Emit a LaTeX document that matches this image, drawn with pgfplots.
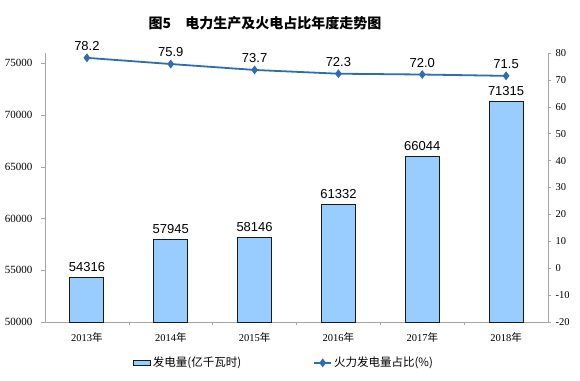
\documentclass[border=0pt]{standalone}
\usepackage{fontspec}
\setmainfont{Liberation Serif}
\setsansfont{Liberation Sans}
\newfontfamily\cjk{Noto Sans CJK SC}
\usepackage{pgfplots}
\pgfplotsset{compat=1.18}
\definecolor{barfill}{HTML}{99CCFF}
\definecolor{linec}{HTML}{2E6DB4}
\definecolor{axgray}{HTML}{A6A6A6}
\definecolor{bardraw}{HTML}{1A1A1A}
\begin{document}
\begin{tikzpicture}[x=1pt,y=1pt]
\useasboundingbox (0,0) rectangle (580,380);
\node[font=\cjk\bfseries\fontsize{14}{16}\selectfont] at (265,357) {图5\hspace{1em}电力生产及火电占比年度走势图};
\begin{axis}[
  at={(45pt,58pt)}, anchor=south west,
  width=503pt, height=269pt, scale only axis,
  xmin=-0.5, xmax=5.5, ymin=50000, ymax=76000,
  axis y line*=left, axis x line*=bottom,
  axis line style={axgray, line width=0.8pt},
  every tick/.style={axgray, line width=0.6pt},
  tick align=outside,
  major tick length=4pt, minor tick length=3pt,
  ytick={50000,55000,...,75000},
  xtick={0,...,5},
  xticklabels={2013{\cjk 年},2014{\cjk 年},2015{\cjk 年},2016{\cjk 年},2017{\cjk 年},2018{\cjk 年}},
  x tick style={draw=none},
  minor xtick={0.5,1.5,...,4.5},
  minor x tick style={draw=axgray},
  scaled y ticks=false,
  /pgf/number format/1000 sep={},
  /pgf/number format/assume math mode=true,
  yticklabel style={font=\fontsize{11}{13}\selectfont, xshift=-5pt},
  xticklabel style={font=\fontsize{10.5}{12}\selectfont, yshift=-3pt},
  ybar, bar width=34pt,
  nodes near coords,
  every node near coord/.append style={font=\sffamily\fontsize{13}{15}\selectfont, yshift=2pt},
  clip=false,
]
\addplot[fill=barfill, draw=bardraw, line width=1pt] coordinates {
  (0,54316) (1,57945) (2,58146) (3,61332) (4,66044) (5,71315)};
\end{axis}
\begin{axis}[
  at={(45pt,58pt)}, anchor=south west,
  width=503pt, height=269pt, scale only axis,
  xmin=-0.5, xmax=5.5, ymin=-20, ymax=80,
  axis y line*=right, axis x line=none,
  axis line style={axgray, line width=0.8pt},
  every tick/.style={axgray, line width=0.6pt},
  tick align=outside, major tick length=3pt,
  ytick={-20,-10,...,80},
  /pgf/number format/assume math mode=true,
  yticklabel style={font=\fontsize{10.5}{12}\selectfont, xshift=1pt},
  nodes near coords,
  nodes near coords style={/pgf/number format/fixed, /pgf/number format/fixed zerofill, /pgf/number format/precision=1},
  every node near coord/.append style={font=\sffamily\fontsize{13}{15}\selectfont, text=black, yshift=3pt},
  legend columns=2,
  legend style={draw=none, at={(0.475,-0.152)}, anchor=center,
    font=\cjk\fontsize{11.5}{13}\selectfont,
    /tikz/every even column/.append style={column sep=70pt}},
  clip=false,
]
\addlegendimage{area legend, fill=barfill, draw=bardraw, line width=1pt}
\addlegendentry{发电量(亿千瓦时)}
\addplot[linec, line width=1.8pt, mark=diamond*, mark size=3pt, mark options={fill=linec}] coordinates {
  (0,78.2) (1,75.9) (2,73.7) (3,72.3) (4,72.0) (5,71.5)};
\addlegendentry{火力发电量占比(\%)}
\end{axis}
\end{tikzpicture}
\end{document}
